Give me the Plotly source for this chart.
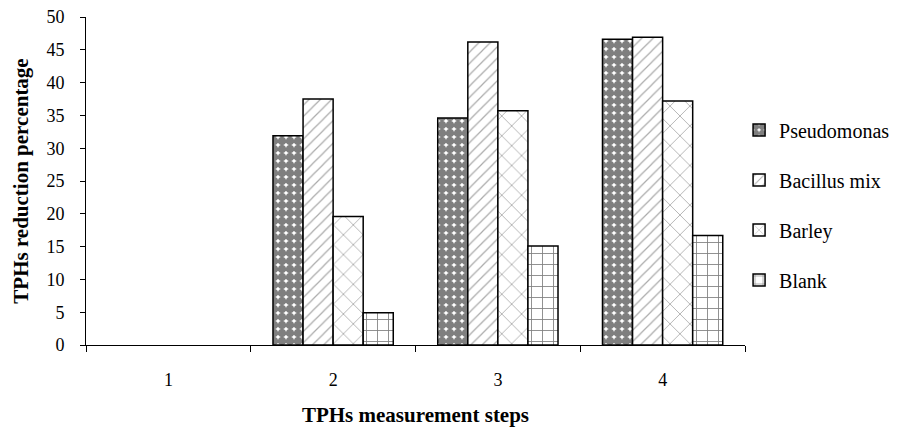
import plotly.graph_objects as go

steps = ["1", "2", "3", "4"]
pseudomonas = [0, 31.9, 34.6, 46.6]
bacillus = [0, 37.5, 46.2, 46.9]
barley = [0, 19.6, 35.7, 37.2]
blank = [0, 4.9, 15.1, 16.7]

series = [
    ("Pseudomonas", pseudomonas, dict(shape=".", fgcolor="black", bgcolor="white", size=8, solidity=0.8)),
    ("Bacillus mix", bacillus, dict(shape="/", fgcolor="#555555", bgcolor="white", size=8, solidity=0.15)),
    ("Barley", barley, dict(shape="x", fgcolor="black", bgcolor="white", size=14, solidity=0.08)),
    ("Blank", blank, dict(shape="+", fgcolor="black", bgcolor="white", size=11, solidity=0.15)),
]

FONT = "'Liberation Serif', 'Times New Roman', Times, serif"

fig = go.Figure()
for i, (name, vals, pat) in enumerate(series):
    fig.add_trace(go.Bar(
        x=steps, y=[v if v != 0 else None for v in vals], name=name, legendgroup=f"g{i}",
        marker=dict(color="white", pattern=pat, line=dict(color="black", width=1.5)),
    ))

fig.update_layout(
    width=908, height=430,
    margin=dict(l=86, r=163, t=17, b=85, autoexpand=False),
    paper_bgcolor="white", plot_bgcolor="white",
    barmode="group", bargap=0.27, bargroupgap=0,
    font=dict(family=FONT, size=18, color="black"),
    legend=dict(
        x=0.991, xanchor="left", y=0.715, yanchor="top",
        font=dict(family=FONT, size=20, color="black"),
        tracegroupgap=21, itemwidth=30, bgcolor="rgba(0,0,0,0)",
    ),
    xaxis=dict(
        showline=True, linecolor="black", linewidth=1, automargin=False,
        ticks="outside", tickson="boundaries", ticklen=6, tickcolor="black",
        showgrid=False, ticklabelstandoff=18,
        tickfont=dict(family=FONT, size=18),
        title=dict(text="<b>TPHs measurement steps</b>", font=dict(family=FONT, size=21), standoff=18),
    ),
    yaxis=dict(
        range=[0, 50], dtick=5, showline=True, linecolor="black", linewidth=1, automargin=False,
        ticks="outside", ticklen=5, tickcolor="black", showgrid=False, zeroline=False,
        ticklabelstandoff=12,
        tickfont=dict(family=FONT, size=18),
        title=dict(text="<b>TPHs reduction percentage</b>", font=dict(family=FONT, size=21), standoff=12),
    ),
)

fig.write_html("out.html")
